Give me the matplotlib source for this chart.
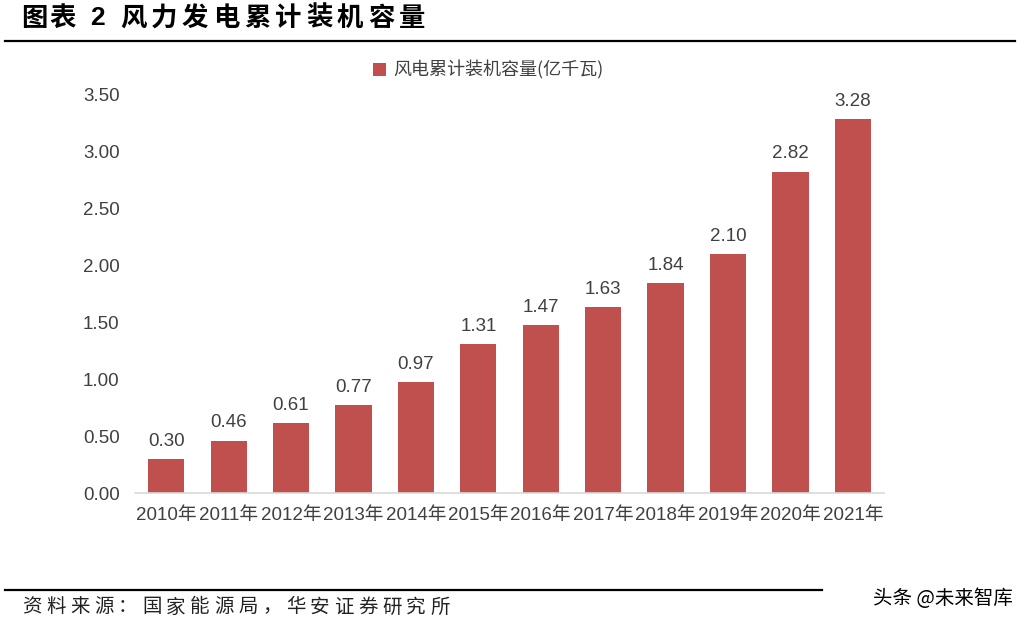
import matplotlib.pyplot as plt

plt.rcParams['font.family'] = ['Liberation Sans', 'Noto Sans CJK SC']

years = ['2010年', '2011年', '2012年', '2013年', '2014年', '2015年',
         '2016年', '2017年', '2018年', '2019年', '2020年', '2021年']
capacity = [0.30, 0.46, 0.61, 0.77, 0.97, 1.31, 1.47, 1.63, 1.84, 2.10, 2.82, 3.28]
yticks = [0, 0.5, 1.0, 1.5, 2.0, 2.5, 3.0, 3.5]

bar_color = '#C0504D'
text_color = '#404040'
W, H = 1028, 627


def spaced_text(fig, s, x0, y, pitch, **kw):
    # draw a string one character at a time, x0/y/pitch in pixels
    x = x0
    for ch in s:
        if ch == ' ':
            x += pitch * 0.5
            continue
        fig.text(x / W, 1 - y / H, ch, ha='left', va='center', **kw)
        x += pitch * (0.55 if ch.isascii() else 1.0)


fig = plt.figure(figsize=(10.28, 6.27), dpi=100)
ax = fig.add_axes([0.1313, 0.2137, 0.7287, 0.6363])

x = range(len(years))
ax.bar(x, capacity, width=0.58, color=bar_color, label='风电累计装机容量(亿千瓦)')
for xi, v in zip(x, capacity):
    ax.text(xi, v + 0.08, f'{v:.2f}', ha='center', va='bottom',
            fontsize=13.5, color=text_color)

ax.set_xlim(-0.5, len(years) - 0.5)
ax.set_ylim(0, 3.5)
ax.set_yticks(yticks)
ax.set_yticklabels([f'{t:.2f}' for t in yticks])
ax.set_xticks(list(x))
ax.set_xticklabels(years)
ax.tick_params(axis='y', length=0, labelsize=13.5, labelcolor=text_color, pad=11)
ax.tick_params(axis='x', length=0, labelsize=13.5, labelcolor=text_color, pad=10)
for s in ['top', 'right', 'left']:
    ax.spines[s].set_visible(False)
ax.spines['bottom'].set_color('#D9D9D9')
ax.spines['bottom'].set_linewidth(1.2)

fig.legend(loc='center', bbox_to_anchor=(0.475, 0.888), frameon=False,
           handlelength=0.7, handleheight=0.7, handletextpad=0.4,
           labelcolor=text_color, prop={'family': ['Noto Sans CJK SC'], 'size': 13})

# title and rules
spaced_text(fig, '图表', 21, 18, 28, fontsize=19, fontweight='bold',
            family=['Noto Sans CJK SC'])
fig.text(90 / W, 1 - 18 / H, '2', ha='left', va='center', fontsize=19,
         fontweight='bold', family=['Liberation Sans'])
spaced_text(fig, '风力发电累计装机容量', 120, 18, 31, fontsize=19, fontweight='bold',
            family=['Noto Sans CJK SC'])
fig.add_artist(plt.Line2D([0.005, 0.987], [0.935, 0.935], color='black', lw=1.6))
fig.add_artist(plt.Line2D([0.005, 0.80], [0.059, 0.059], color='black', lw=1.6))
spaced_text(fig, '资料来源：国家能源局，华安证券研究所', 22, 607, 24, fontsize=14,
            color='#222222', family=['Noto Sans CJK SC'])
fig.text(0.985, 0.046, '头条 @未来智库', fontsize=14, va='center', ha='right',
         color='black', family=['Noto Sans CJK SC'])

fig.savefig('out.png', dpi=100)
